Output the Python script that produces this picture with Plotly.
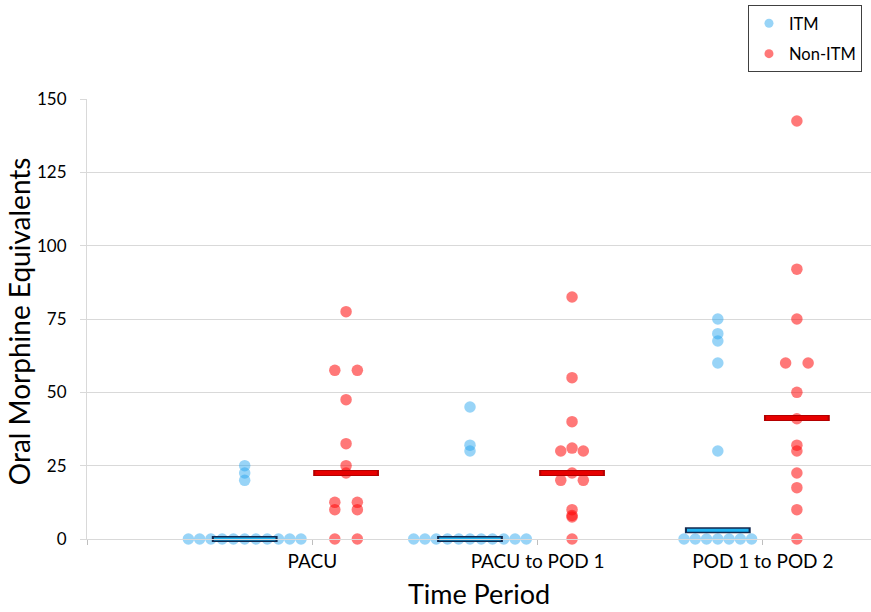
import plotly.graph_objects as go
from collections import Counter

# ---------------- data ----------------
periods = ["PACU", "PACU to POD 1", "POD 1 to POD 2"]

itm_pacu = [0]*11 + [20, 22.5, 25]
itm_pacu_pod1 = [0]*11 + [30, 32, 45]
itm_pod1_pod2 = [0]*7 + [30, 60, 67.5, 70, 75]

non_pacu = [0, 0, 10, 10, 12.5, 12.5, 22.5, 25, 32.5, 47.5, 57.5, 57.5, 77.5]
non_pacu_pod1 = [0, 7.5, 8, 10, 20, 20, 22.5, 30, 30, 31, 40, 55, 82.5]
non_pod1_pod2 = [0, 10, 17.5, 22.5, 30, 32, 41, 50, 60, 60, 75, 92, 142.5]

itm_medians = [0, 0, 3]
non_medians = [22.5, 22.5, 41.25]

y_ticks = [0, 25, 50, 75, 100, 125, 150]

# ---------------- layout helpers ----------------
itm_centers = [0.70, 1.70, 2.80]
non_centers = [1.15, 2.153, 3.151]
STEP = 0.05


def swarm(values, center):
    xs, ys = [], []
    counts = Counter(values)
    for v, n in counts.items():
        if n % 2 == 1:
            offs = [0] + [s * k for k in range(1, (n - 1) // 2 + 1) for s in (-1, 1)]
        else:
            offs = [s * k for k in range(1, n // 2 + 1) for s in (-1, 1)]
        for o in offs:
            xs.append(center + o * STEP)
            ys.append(v)
    return xs, ys


itm_groups = [itm_pacu, itm_pacu_pod1, itm_pod1_pod2]
non_groups = [non_pacu, non_pacu_pod1, non_pod1_pod2]

FONT = "Lato"
BLUE = "rgb(40,165,238)"
RED = "rgb(255,10,10)"
fig = go.Figure()

ix, iy = [], []
for vals, c in zip(itm_groups, itm_centers):
    a, b = swarm(vals, c)
    ix += a; iy += b
nx, ny = [], []
for vals, c in zip(non_groups, non_centers):
    a, b = swarm(vals, c)
    nx += a; ny += b

fig.add_trace(go.Scatter(
    x=ix, y=iy, mode="markers", name="ITM", showlegend=False,
    marker=dict(size=11.5, color=BLUE, opacity=0.48, line=dict(width=0)),
    cliponaxis=False))
fig.add_trace(go.Scatter(
    x=nx, y=ny, mode="markers", name="Non-ITM", showlegend=False,
    marker=dict(size=11.5, color=RED, opacity=0.55, line=dict(width=0)),
    cliponaxis=False))


def median_bar(centers, medians, edge, fill, wo, wi):
    # outline (thicker, longer) then fill on top
    fig.add_trace(go.Scatter(
        x=centers, y=medians, mode="markers", showlegend=False, hoverinfo="skip",
        cliponaxis=False,
        marker=dict(symbol="line-ew", size=47, line=dict(color=edge, width=wo))))
    fig.add_trace(go.Scatter(
        x=centers, y=medians, mode="markers", showlegend=False, hoverinfo="skip",
        cliponaxis=False,
        marker=dict(symbol="line-ew", size=44, line=dict(color=fill, width=wi))))


median_bar(itm_centers, itm_medians, "#13294F", "#1DB2F0", 6, 3)
median_bar(non_centers, non_medians, "#B40000", "#E60000", 6, 4)

# legend entries
fig.add_trace(go.Scatter(x=[None], y=[None], mode="markers", name="ITM",
                         legendgroup="a",
                         marker=dict(size=9, color=BLUE, opacity=0.48)))
fig.add_trace(go.Scatter(x=[None], y=[None], mode="markers", name="Non-ITM",
                         legendgroup="b",
                         marker=dict(size=9, color=RED, opacity=0.55)))

fig.update_layout(
    width=871, height=612,
    margin=dict(l=87, r=0, t=99, b=73, autoexpand=False),
    paper_bgcolor="white", plot_bgcolor="white",
    font=dict(family=FONT, size=17, color="black"),
    showlegend=True,
    legend=dict(x=0.9885, y=1.2136, xanchor="right", yanchor="top",
                bordercolor="#404040", borderwidth=1, bgcolor="white",
                font=dict(family=FONT, size=16.5, color="black"),
                traceorder="grouped", tracegroupgap=6,
                itemwidth=30),
    xaxis=dict(range=[0, 3.48], tickmode="array", tickvals=[0, 1, 2, 3],
               ticktext=[""] + periods, showgrid=False, zeroline=False,
               showline=True, linecolor="#D9D9D9", linewidth=1,
               ticks="outside", ticklen=5, tickcolor="#BFBFBF",
               tickfont=dict(size=19), automargin=False,
               title=dict(text="Time Period", font=dict(size=27), standoff=14)),
    yaxis=dict(range=[0, 150], tickmode="array", tickvals=y_ticks,
               showgrid=True, gridcolor="#D9D9D9", gridwidth=1, zeroline=False,
               showline=True, linecolor="#D9D9D9", linewidth=1,
               ticks="outside", ticklen=6, tickcolor="#D9D9D9",
               tickfont=dict(size=17), ticklabelstandoff=10, automargin=False),
    annotations=[dict(text="Oral Morphine Equivalents", textangle=-90,
                      xref="paper", yref="paper", x=-0.0625, y=0.495,
                      xanchor="right", yanchor="middle", showarrow=False,
                      font=dict(family=FONT, size=28, color="black"))],
)

fig.write_html("out.html",
               config={"displayModeBar": False},
               post_script="document.body.style.margin='0';document.body.style.padding='0';")
